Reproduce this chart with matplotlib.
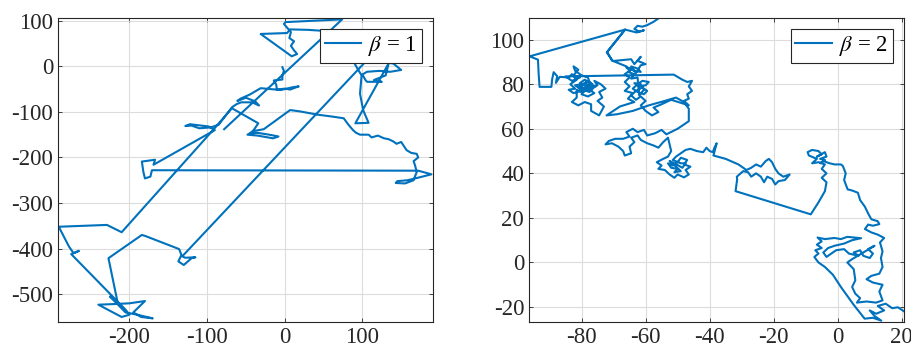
import matplotlib
matplotlib.use("Agg")
import matplotlib.pyplot as plt

plt.rcParams['font.family'] = ['Liberation Serif', 'DejaVu Serif']
plt.rcParams['mathtext.fontset'] = 'stix'
plt.rcParams['axes.unicode_minus'] = False

# beta = 1 path (Levy flight)
x1 = [-3, -1, -3, -3, -14, -11, -10, 0, 7, 18, 10, -5,
      -31, -45, -57, -61, -50, -38, -33, -42, -56, -62, -68,
      -85, -95, -110, -120, -128, -122, -108, -98, -90,
      -169, -167, -184, -182, -180, -173, -171,
      172, 189, 168, 158, 145, 143, 155, 166, 170,
      168, 166, 172, 170, 163, 157, 150, 144, 140, 134, 128, 120, 112, 108, 97, 92, 88, 82, 76,
      60, 42, 20, 7,
      -27, -40, -48, -35, -15, -8, -20, -35, -44, -40, -34, -68,
      -95, -210, -229, -291, -278, -272, -265, -275,
      -205, -200, -210, -240, -225, -200, -180, -195, -185, -170, -190, -205, -225, -215,
      -227, -184, -180, -136, -133,
      -137, -130, -120, -115, -128, -132,
      104,
      95, 84, 100, 118, 123, 130, 126, 140, 150, 136, 122, 106, 100, 104, 106, 125, 115, 130, 134,
      91, 108, 101, 97, 99, 92, 84, 80,
      63, 48, 30, 7, 3, -31, 9, 16, 12, 8, 12, 6, 8, 3, -1, 1, 74,
      -78]
y1 = [-2, -10, -20, -29, -31, -40, -51, -49, -51, -44, -46, -52,
      -48, -62, -71, -76, -69, -77, -86, -79, -79, -83, -90,
      -128, -134, -136, -130, -131, -127, -130, -132, -140,
      -216, -205, -209, -232, -246, -242, -228,
      -229, -237, -246, -250, -252, -256, -257, -250, -232,
      -218, -208, -200, -192, -190, -184, -166, -170, -165, -160, -158, -152, -156, -150, -150, -146, -140, -128, -114,
      -110, -106, -99, -96,
      -138, -142, -150, -152, -158, -154, -150, -146, -147, -140, -125, -92,
      -145, -364, -348, -352, -395, -410, -405, -412,
      -534, -545, -550, -523, -522, -520, -515, -540, -550, -553, -545, -540, -505, -520,
      -421, -370, -372, -401, -414,
      -428, -436, -421, -419, -420, -417,
      10,
      20, 26, 22, 20, 15, 22, 10, 6, -8, -12, -10, -12, -18, -30, -34, -34, -30, -20, 7,
      -125, -124, -96, -60, -20, 0, 26, 48,
      54, 78, 80, 81, 73, 71, 22, 27, 35, 45, 55, 62, 75, 85, 93, 97, 103,
      -138]

# beta = 2 path (Brownian-like) in pieces, top to bottom
b2_top = [(-55.8, 109.7), (-57.5, 108), (-59.5, 106.5), (-61, 105.8), (-62.5, 106.2),
          (-63.5, 104.8), (-62, 103.6), (-60.5, 104.2), (-62.8, 103.2), (-64.5, 103.8),
          (-66.4, 104.5)]
b2_far_left = [(-96.2, 92.5), (-93.6, 91), (-93.4, 85), (-93.1, 78.8), (-89.4, 78.8),
               (-89.2, 82), (-88.7, 85.4), (-87.6, 83.6), (-88, 80.6), (-86.8, 83.3)]
b2_blob_a = [(-84, 83), (-83, 84.5), (-81.5, 82), (-83.5, 80), (-82, 78), (-84, 77.5),
             (-82.5, 76), (-80, 77), (-78.5, 79), (-80.5, 80.5), (-79, 82), (-77, 80.5),
             (-78.5, 78.5), (-76.5, 78), (-77.5, 76.5), (-79.5, 77.5), (-78, 79.5),
             (-75.5, 79), (-77.5, 77.5), (-76, 76), (-78, 74.5), (-80, 75.5), (-79, 77),
             (-81, 78.5), (-80, 80), (-82, 79.5), (-80.5, 78), (-79, 80.5), (-77.5, 79),
             (-79, 78), (-80.5, 79), (-78.5, 81), (-76.5, 80), (-78, 77.5), (-80, 76.5),
             (-81.5, 77.5), (-81.5, 74), (-83, 72), (-81, 70.5),
             (-79, 72), (-77, 71), (-77, 68), (-74.5, 66), (-73, 70), (-75, 72.5),
             (-73.5, 74), (-74.5, 76.5), (-72.5, 78), (-74, 80), (-76, 81.5), (-75, 79.5),
             (-77, 79), (-78, 83), (-80, 84), (-82, 86), (-82.5, 88), (-81, 86.5),
             (-82.5, 84), (-80.5, 83), (-83, 81.5), (-85, 83.5)]
b2_long = [(-51.2, 84.3), (-48.5, 82), (-47, 81), (-45.5, 81.5), (-46.5, 79),
           (-45.5, 77), (-47, 75.5), (-46.5, 73.5), (-48, 72.5), (-46.5, 70.5),
           (-52, 73), (-55, 71), (-57.5, 69.5), (-56, 67.5), (-58, 66), (-60, 68),
           (-61.5, 70.5), (-60, 72.5)]
b2_blob_b = [(-61.5, 74.5), (-63, 73), (-64.5, 75), (-63, 77), (-61, 78.5), (-59.5, 77),
             (-60.5, 75.5), (-62.5, 76.5), (-64, 78), (-62.5, 80), (-61, 81.5), (-59, 81),
             (-60, 79.5), (-62, 79), (-63.5, 80.5), (-61.5, 80), (-60.5, 77.5), (-62, 75),
             (-62.5, 83), (-64.5, 82.5), (-63.5, 84.5),
             (-65.5, 85.5), (-64, 87), (-66, 87.5), (-63.5, 86), (-61.5, 85.5),
             (-62.5, 87), (-64.5, 88), (-63, 85), (-61.5, 88.5), (-60, 89), (-62.5, 90.5),
             (-61.5, 92.3), (-63.5, 89), (-64.5, 91.2)]
b2_branch = [(-70.2, 90.4), (-72.1, 94.2), (-66.4, 104.5), (-72, 94.5), (-70.5, 90.6),
             (-66, 88), (-65, 86), (-66.5, 84.5), (-65, 83), (-66.5, 81), (-65, 79),
             (-66.5, 77), (-64, 76), (-65.5, 73.5), (-63.5, 72),
             (-68, 70), (-72.2, 66), (-69, 66.5), (-64, 68), (-59, 70.5), (-54, 72.5),
             (-50.5, 74), (-48, 72), (-46.5, 69), (-46.5, 63.4)]
b2_mid = [(-50, 60), (-53.5, 57.5), (-55, 59.5), (-57, 58), (-59.5, 57), (-60.5, 59.5),
          (-62.5, 58.5), (-64, 60), (-66, 58.5), (-65, 56.5), (-67, 55.5), (-69.5, 55.5),
          (-71.5, 54.5), (-72.5, 53), (-70.5, 53.5), (-68.5, 52), (-67, 50), (-66.5, 48),
          (-64.5, 49), (-65, 52), (-63.5, 54), (-64.5, 56), (-62.5, 57), (-61.5, 55),
          (-59.5, 53.5), (-57.5, 52.5), (-56, 51.5), (-54.5, 54), (-53, 56)]
b2_blob_c = [(-52, 50), (-53, 47.5), (-54.5, 46.5), (-56.5, 45), (-55, 43.5), (-56, 42),
             (-54, 41.5), (-52.5, 39.5), (-51, 38), (-50, 39.5), (-48, 38.2), (-46.5, 39.5),
             (-47.5, 41.5), (-46, 43), (-48, 44), (-47, 46), (-49, 47), (-50, 45),
             (-51.5, 43.5), (-53, 44.5), (-52, 42.5), (-50, 42), (-51, 40.5), (-49, 41),
             (-50.5, 43), (-52.5, 45.5), (-51, 44.5), (-48.5, 42.5), (-47.5, 44.5),
             (-49, 44.5), (-51.5, 46), (-50.5, 47.5), (-49, 49), (-47.5, 50.5), (-46, 51),
             (-44, 50)]
b2_right_mid = [(-42, 49.5), (-41, 51.5), (-40, 50), (-39, 49.5), (-38.5, 51.5),
                (-37.8, 53.5), (-38.8, 48), (-35, 46.5), (-31, 44), (-28.5, 41.5),
                (-27, 42.5), (-25.5, 44), (-24, 43), (-22.5, 45.5), (-21.5, 46.5),
                (-20.5, 45), (-19.5, 42), (-18.5, 40), (-17, 38.5), (-15, 39.5),
                (-16.5, 37), (-18.5, 36.5), (-19.5, 35), (-20.5, 37.5), (-22, 38.5),
                (-23, 36), (-24, 38.5), (-25.5, 40), (-27, 38.5), (-28, 40.5), (-29.5, 41),
                (-31.5, 38.5), (-31.4, 37.3), (-31.9, 32), (-8.4, 21.6)]
b2_blob_d = [(-6, 27), (-4, 32), (-3.5, 36), (-5, 38), (-3.5, 40), (-5, 42), (-4, 44),
             (-6, 45), (-8, 44.5), (-6.5, 46.5), (-9, 48), (-9.4, 49.5), (-8, 50.5),
             (-6, 50), (-5, 48.5), (-6.5, 47.5), (-4, 49.5), (-3.5, 47.5), (-5.5, 46.5),
             (-4, 46), (-5.5, 44.5), (-4.5, 45.5), (-2.5, 44.5), (-1, 44), (1, 44),
             (1.6, 43.3)]
b2_low = [(2.5, 40), (2, 37), (3.1, 32.8), (4.5, 32.3), (6.3, 31.3), (7, 28), (8.5, 25),
          (9.5, 22), (10.5, 19.4), (12.5, 18.5), (13, 17.2), (11, 16.5), (9.5, 17),
          (8.5, 15), (10.5, 13.5), (12.5, 12.5), (14.5, 11), (13.2, 9), (14, 5), (13.5, 2),
          (14, -2), (13, -5), (10.5, -6), (9, -7.5), (11, -9), (14, -10), (13, -13),
          (14, -17), (12, -18), (9, -17.5), (6, -18), (7, -16), (5.5, -14), (4.5, -11),
          (5.5, -8), (5, -3), (3, 0), (4.5, 1.5), (11.5, 7.5), (9.5, 6), (11, 4), (10, 2),
          (8, 3), (7, 5.5), (5, 4.5), (6.5, 3), (3.5, 4), (2, 6), (-0.5, 5.5), (-2, 4),
          (-3.5, 2.5), (-4.5, 4.5), (-3, 6.5), (-1, 7.5), (2, 8.5), (4.5, 10), (7.3, 10.9),
          (3, 11.5), (1, 10.5), (-1, 11), (-4, 10.5), (-6.3, 11.2), (-5, 9.5), (-6.5, 8),
          (-5, 6.5), (-7, 5.5), (-6, 4), (-7.3, 2.5)]
b2_end = [(-6, 0), (-4, -2), (-1.5, -5.5), (1, -11), (5, -19), (8.4, -25.2), (11, -24.8),
          (13.6, -26.1), (11.5, -24), (10, -21.5), (12, -23), (14.5, -21.5), (12.5, -19.5),
          (15, -18.5), (17, -20.5), (18.8, -20.1), (20.6, -21.8)]

b2 = (b2_top + b2_far_left + b2_blob_a + b2_long + b2_blob_b + b2_branch + b2_mid
      + b2_blob_c + b2_right_mid + b2_blob_d + b2_low + b2_end)
x2 = [p[0] for p in b2]
y2 = [p[1] for p in b2]

blue = '#0072BD'
fig = plt.figure(figsize=(9.12, 3.54), dpi=100)
ax1 = fig.add_axes([58 / 912, 32 / 354, 375 / 912, 304 / 354])
ax2 = fig.add_axes([529 / 912, 32 / 354, 375 / 912, 304 / 354])

ax1.plot(x1, y1, color=blue, lw=1.5, label=r'$\beta$ = 1')
ax2.plot(x2, y2, color=blue, lw=1.5, label=r'$\beta$ = 2')

ax1.set_xlim(-292, 191)
ax1.set_ylim(-561, 106)
ax1.set_xticks([-200, -100, 0, 100])
ax1.set_yticks([-500, -400, -300, -200, -100, 0, 100])
ax2.set_xlim(-96.4, 20.7)
ax2.set_ylim(-26.7, 109.7)
ax2.set_xticks([-80, -60, -40, -20, 0, 20])
ax2.set_yticks([-20, 0, 20, 40, 60, 80, 100])

for ax in (ax1, ax2):
    ax.grid(True, color='#dcdcdc', lw=0.8)
    ax.set_axisbelow(True)
    ax.tick_params(direction='in', length=3, width=0.6, labelsize=16.5, colors='#262626',
                   top=True, right=True)
    for s in ax.spines.values():
        s.set_color('#262626')
        s.set_linewidth(0.8)
    leg = ax.legend(loc='upper right', fontsize=16.5, fancybox=False, framealpha=1,
                    edgecolor='#262626', handlelength=1.6, handletextpad=0.3,
                    borderpad=0.2, borderaxespad=0.5)
    leg.get_frame().set_linewidth(0.8)

fig.savefig('out.png', dpi=100)
